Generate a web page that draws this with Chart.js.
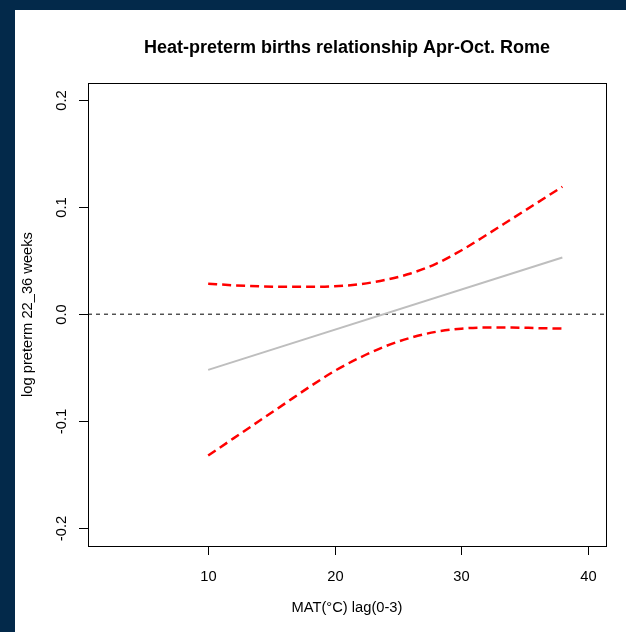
<!DOCTYPE html>
<html>
<head>
<meta charset="utf-8">
<script src="https://cdn.jsdelivr.net/npm/chart.js@4"></script>
<style>
  html, body { margin: 0; padding: 0; background: #03294a; }
  body { width: 626px; height: 632px; position: relative; overflow: hidden; }
  #panneau { position: absolute; left: 15px; top: 10px; width: 611px; height: 622px; background: #ffffff; }
  canvas { display: block; }
</style>
</head>
<body>
<div id="panneau"><canvas id="graphique" width="611" height="622"></canvas></div>
<script>
// Données (température moyenne apparente, lag 0-3)
const temperatures = [10, 12, 14, 16, 18, 20, 22, 24, 26, 28, 30, 32, 34, 36, 38];
const borneHaute = [0.0285, 0.027, 0.026, 0.0255, 0.0255, 0.026, 0.028, 0.032, 0.038, 0.047, 0.0595, 0.074, 0.089, 0.104, 0.119];
const borneBasse = [-0.132, -0.116, -0.100, -0.084, -0.068, -0.053, -0.0405, -0.030, -0.022, -0.0165, -0.0135, -0.0125, -0.0125, -0.013, -0.0135];
const effetX = [10, 38];
const effetY = [-0.052, 0.053];

const xTicks = [10, 20, 30, 40];
const yTicks = [-0.2, -0.1, 0, 0.1, 0.2];
const yTickLabels = ['-0.2', '-0.1', '0.0', '0.1', '0.2'];
const xLimites = [0.5, 41.45];
const yLimites = [-0.2165, 0.2159];

const titre = 'Heat-preterm births relationship Apr-Oct. Rome';
const titreX = 'MAT(°C) lag(0-3)';
const titreY = 'log preterm 22_36 weeks';

const police = '"Liberation Sans", Arial, sans-serif';

const enPoints = (xs, ys) => xs.map((x, i) => ({ x: x, y: ys[i] }));

// Cadre, graduations et textes façon R base graphics
const habillageR = {
    id: 'habillageR',
    afterDatasetsDraw(chart) {
        const ctx = chart.ctx;
        const zone = chart.chartArea;
        const sx = chart.scales.x;
        const sy = chart.scales.y;
        ctx.save();

        // cadre
        ctx.strokeStyle = '#000000';
        ctx.lineWidth = 1;
        ctx.setLineDash([]);
        ctx.strokeRect(Math.round(zone.left) + 0.5, Math.round(zone.top) + 0.5,
            Math.round(zone.right - zone.left), Math.round(zone.bottom - zone.top));

        ctx.fillStyle = '#000000';
        ctx.font = '14.7px ' + police;

        // axe X
        ctx.textAlign = 'center';
        ctx.textBaseline = 'middle';
        sx.ticks.forEach(t => {
            const px = Math.round(sx.getPixelForValue(t.value)) + 0.5;
            ctx.beginPath();
            ctx.moveTo(px, Math.round(zone.bottom) + 0.5);
            ctx.lineTo(px, Math.round(zone.bottom) + 9);
            ctx.stroke();
            ctx.fillText(String(t.value), px, zone.bottom + 31);
        });

        // axe Y (libellés tournés)
        sy.ticks.forEach(t => {
            const py = Math.round(sy.getPixelForValue(t.value)) + 0.5;
            ctx.beginPath();
            ctx.moveTo(Math.round(zone.left) + 0.5, py);
            ctx.lineTo(Math.round(zone.left) - 9, py);
            ctx.stroke();
            const idx = yTicks.indexOf(t.value);
            ctx.save();
            ctx.translate(zone.left - 26, py);
            ctx.rotate(-Math.PI / 2);
            ctx.fillText(idx >= 0 ? yTickLabels[idx] : String(t.value), 0, 0);
            ctx.restore();
        });

        // titres d'axes
        ctx.fillText(titreX, (zone.left + zone.right) / 2, zone.bottom + 62);
        ctx.save();
        ctx.translate(13, (zone.top + zone.bottom) / 2);
        ctx.rotate(-Math.PI / 2);
        ctx.fillText(titreY, 0, 0);
        ctx.restore();

        // titre principal
        ctx.font = 'bold 18px ' + police;
        ctx.fillText(titre, (zone.left + zone.right) / 2, 38);

        ctx.restore();
    }
};

const ctx = document.getElementById('graphique').getContext('2d');

new Chart(ctx, {
    type: 'line',
    data: {
        datasets: [
            {
                label: 'zéro',
                data: enPoints(xLimites, [0, 0]),
                borderColor: '#000000',
                borderWidth: 1,
                borderDash: [4, 4],
                pointRadius: 0,
                order: 3
            },
            {
                label: 'effet',
                data: enPoints(effetX, effetY),
                borderColor: '#bebebe',
                borderWidth: 2,
                pointRadius: 0,
                order: 2
            },
            {
                label: 'IC haut',
                data: enPoints(temperatures, borneHaute),
                borderColor: '#ff0000',
                borderWidth: 2.5,
                borderDash: [9, 5],
                pointRadius: 0,
                cubicInterpolationMode: 'monotone',
                order: 1
            },
            {
                label: 'IC bas',
                data: enPoints(temperatures, borneBasse),
                borderColor: '#ff0000',
                borderWidth: 2.5,
                borderDash: [9, 5],
                pointRadius: 0,
                cubicInterpolationMode: 'monotone',
                order: 1
            }
        ]
    },
    options: {
        responsive: false,
        animation: false,
        events: [],
        layout: { padding: { left: 73, top: 73, right: 20, bottom: 86 } },
        plugins: {
            legend: { display: false },
            tooltip: { enabled: false }
        },
        scales: {
            x: {
                type: 'linear',
                display: false,
                min: xLimites[0],
                max: xLimites[1],
                afterBuildTicks: axe => { axe.ticks = xTicks.map(v => ({ value: v })); }
            },
            y: {
                type: 'linear',
                display: false,
                min: yLimites[0],
                max: yLimites[1],
                afterBuildTicks: axe => { axe.ticks = yTicks.map(v => ({ value: v })); }
            }
        }
    },
    plugins: [habillageR]
});
</script>
</body>
</html>
